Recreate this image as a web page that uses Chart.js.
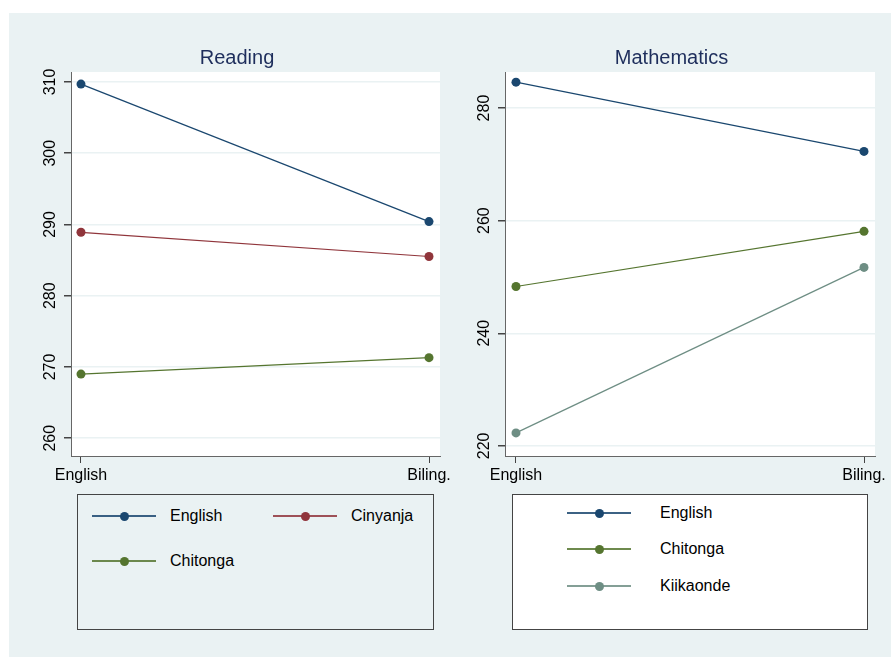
<!DOCTYPE html>
<html>
<head>
<meta charset="utf-8">
<script src="https://cdn.jsdelivr.net/npm/chart.js@4.4.1/dist/chart.umd.min.js"></script>
<style>
  body { margin: 0; background: #fff; font-family: 'Liberation Sans', Arial, sans-serif; }
  #page { position: relative; width: 891px; height: 657px; overflow: hidden; }
  #bg { position: absolute; left: 9px; top: 13px; width: 882px; height: 644px; background: #eaf2f3; }
  .panel { position: absolute; top: 13px; height: 473px; }
  .legend { position: absolute; top: 494px; height: 136px; box-sizing: border-box; border: 1px solid #444; }
  .key-line { position: absolute; height: 1.5px; width: 64px; opacity: 0.85; }
  .key-dot { position: absolute; width: 9px; height: 9px; border-radius: 50%; }
  .key-text { position: absolute; font-size: 16px; color: #000; line-height: 20px; white-space: nowrap; }
</style>
</head>
<body>
<div id="page">
  <div id="bg"></div>
  <div class="legend" id="legend-reading" style="left:77px; width:357px; background:#eaf2f3;"></div>
  <div class="legend" id="legend-math" style="left:512px; width:356px; background:#fff;"></div>
  <div class="panel" style="left:9px; width:456px;"><canvas id="readingChart" width="456" height="473"></canvas></div>
  <div class="panel" style="left:451px; width:440px;"><canvas id="mathChart" width="440" height="473"></canvas></div>
</div>
<script>
const categories = ['English', 'Biling.'];

const readingTicks = [260, 270, 280, 290, 300, 310];
const readingEnglish = [309.7, 290.4];
const readingCinyanja = [288.9, 285.5];
const readingChitonga = [269.0, 271.3];

const mathTicks = [220, 240, 260, 280];
const mathEnglish = [284.6, 272.3];
const mathChitonga = [248.3, 258.1];
const mathKiikaonde = [222.3, 251.7];

const NAVY = '#1a476f';
const MAROON = '#90353b';
const FOREST = '#55752f';
const TEAL = '#6e8e84';

const FONT = "'Liberation Sans', Arial, sans-serif";

// white plot region like stata's plotregion
const plotBg = {
    id: 'plotBg',
    beforeDraw(chart) {
        const a = chart.chartArea;
        const ctx = chart.ctx;
        ctx.save();
        ctx.fillStyle = '#ffffff';
        ctx.fillRect(a.left, a.top, a.right - a.left, a.bottom - a.top);
        ctx.restore();
    }
};

function series(label, values, color) {
    return {
        label: label,
        data: values.map((v, i) => ({ x: i, y: v })),
        borderColor: color,
        backgroundColor: color,
        pointBackgroundColor: color,
        pointBorderWidth: 0,
        pointRadius: 4.5,
        borderWidth: 1.2,
        tension: 0
    };
}

function makePanel(canvasId, title, datasets, yTicks, yMin, yMax, xMin, xMax, padLeft, padRight) {
    const ctx = document.getElementById(canvasId).getContext('2d');
    return new Chart(ctx, {
        type: 'line',
        data: { datasets: datasets },
        plugins: [plotBg],
        options: {
            responsive: false,
            animation: false,
            layout: { padding: { left: padLeft, right: padRight, top: 0, bottom: 0 } },
            plugins: {
                legend: { display: false },
                tooltip: { enabled: false },
                title: {
                    display: true,
                    text: title,
                    color: '#1e2e5c',
                    font: { family: FONT, size: 20, weight: 'normal', lineHeight: 1.2 },
                    padding: { top: 33, bottom: 2 }
                }
            },
            scales: {
                x: {
                    type: 'linear',
                    min: xMin,
                    max: xMax,
                    afterBuildTicks: s => { s.ticks = categories.map((c, i) => ({ value: i })); },
                    afterFit: s => { s.height = 30; },
                    ticks: {
                        callback: v => categories[v],
                        color: '#000',
                        font: { family: FONT, size: 16 },
                        padding: 3,
                        maxRotation: 0,
                        autoSkip: false
                    },
                    grid: { drawOnChartArea: false, tickLength: 7, tickColor: '#444', lineWidth: 1 },
                    border: { color: '#666', width: 1 }
                },
                y: {
                    type: 'linear',
                    min: yMin,
                    max: yMax,
                    afterBuildTicks: s => { s.ticks = yTicks.map(v => ({ value: v })); },
                    afterFit: s => { s.width = 37; },
                    ticks: {
                        minRotation: 90,
                        maxRotation: 90,
                        crossAlign: 'center',
                        padding: 0,
                        color: '#000',
                        font: { family: FONT, size: 16 }
                    },
                    grid: { color: '#eaf2f3', lineWidth: 1.5, tickColor: '#444', tickLength: 7 },
                    border: { color: '#666', width: 1 }
                }
            }
        }
    });
}

const readingChart = makePanel('readingChart', 'Reading', [
    series('English', readingEnglish, NAVY),
    series('Cinyanja', readingCinyanja, MAROON),
    series('Chitonga', readingChitonga, FOREST)
], readingTicks, 257.5, 311.4, -0.0287, 1.0316, 25, 25);

const mathChart = makePanel('mathChart', 'Mathematics', [
    series('English', mathEnglish, NAVY),
    series('Chitonga', mathChitonga, FOREST),
    series('Kiikaonde', mathKiikaonde, TEAL)
], mathTicks, 218.2, 286.4, -0.0316, 1.0316, 17, 16);

// legend keys built from the chart datasets, placed like the stata legend
function buildLegend(chart, slots, textGap) {
    const page = document.getElementById('page');
    chart.data.datasets.forEach((ds, i) => {
        const [x, y] = slots[i];
        const line = document.createElement('div');
        line.className = 'key-line';
        line.style.left = x + 'px';
        line.style.top = (y - 0.75) + 'px';
        line.style.background = ds.borderColor;
        page.appendChild(line);
        const dot = document.createElement('div');
        dot.className = 'key-dot';
        dot.style.left = (x + 27.5) + 'px';
        dot.style.top = (y - 4.5) + 'px';
        dot.style.background = ds.pointBackgroundColor;
        page.appendChild(dot);
        const txt = document.createElement('div');
        txt.className = 'key-text';
        txt.textContent = ds.label;
        txt.style.left = (x + textGap) + 'px';
        txt.style.top = (y - 10) + 'px';
        page.appendChild(txt);
    });
}

buildLegend(readingChart, [[92, 516], [273, 516], [92, 561]], 78);
buildLegend(mathChart, [[567, 513], [567, 549], [567, 586]], 93);
</script>
</body>
</html>
